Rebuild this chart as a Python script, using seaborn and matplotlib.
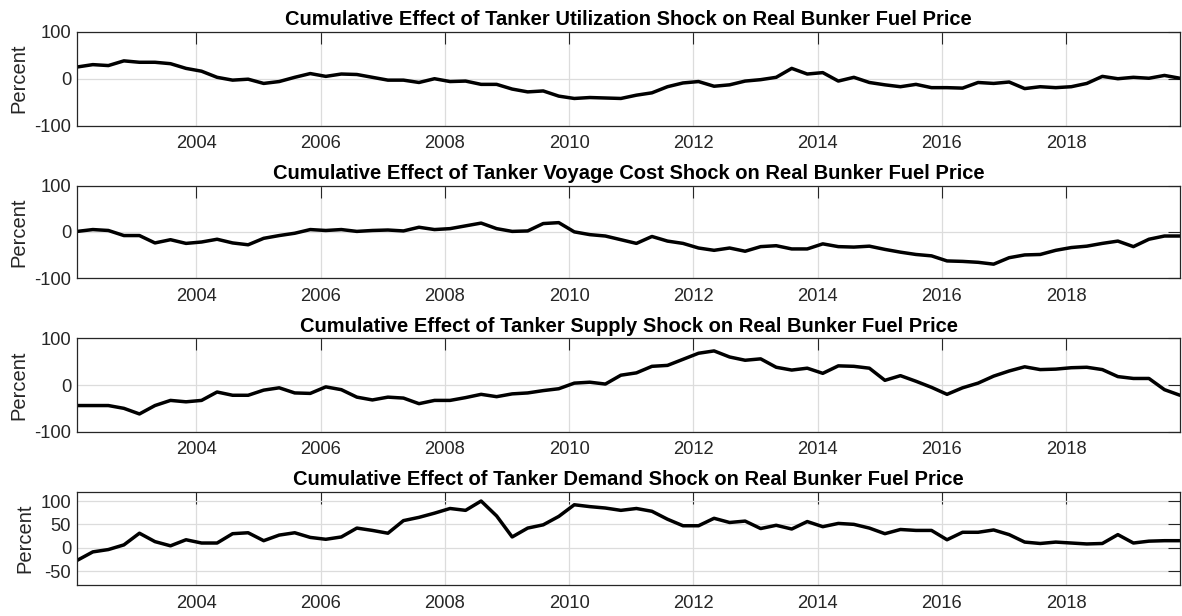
import numpy as np
import pandas as pd
import seaborn as sns
import matplotlib.pyplot as plt

# quarterly readings, Feb 2002 .. Nov 2019
start_year = 2002 + 1 / 12
dates = start_year + 0.25 * np.arange(72)

utilization = [25, 30, 28, 38, 35, 35, 32, 22, 16, 3,
               -3, -1, -10, -6, 3, 11, 5, 10, 9, 3,
               -3, -3, -8, 0, -6, -5, -12, -12, -22, -28,
               -26, -37, -42, -40, -41, -42, -35, -30, -17, -9,
               -6, -16, -13, -5, -2, 3, 22, 10, 13, -5,
               3, -8, -13, -17, -12, -19, -19, -20, -8, -10,
               -7, -21, -17, -19, -17, -10, 5, 0, 3, 1,
               7, 1]

voyage_cost = [1, 5, 3, -8, -8, -24, -17, -25, -22, -16,
               -24, -28, -14, -8, -3, 5, 3, 5, 1, 3,
               4, 2, 10, 5, 7, 13, 19, 7, 1, 2,
               18, 20, 0, -6, -9, -17, -25, -10, -20, -25,
               -35, -40, -35, -42, -32, -30, -37, -37, -26, -32,
               -33, -31, -38, -44, -49, -52, -63, -64, -66, -70,
               -56, -50, -49, -40, -34, -31, -25, -20, -32, -16,
               -9, -9]

supply = [-44, -44, -44, -50, -62, -44, -33, -36, -33, -15,
          -22, -22, -11, -6, -17, -18, -4, -10, -26, -32,
          -26, -28, -40, -33, -33, -27, -20, -25, -19, -17,
          -12, -8, 4, 6, 2, 21, 26, 40, 42, 55,
          68, 73, 60, 53, 56, 38, 32, 36, 25, 41,
          40, 36, 10, 20, 8, -5, -20, -6, 4, 19,
          30, 39, 33, 34, 37, 38, 33, 18, 14, 14,
          -10, -22]

demand = [-27, -9, -4, 6, 31, 13, 4, 17, 10, 10,
          30, 32, 15, 27, 32, 22, 18, 23, 42, 37,
          31, 58, 65, 74, 84, 80, 100, 68, 23, 42,
          49, 67, 92, 88, 85, 80, 84, 78, 61, 47,
          47, 63, 54, 57, 41, 48, 40, 56, 45, 52,
          50, 42, 30, 39, 37, 37, 17, 33, 33, 38,
          28, 12, 9, 12, 10, 8, 9, 28, 10, 14,
          15, 15]

titles = ["Cumulative Effect of Tanker Utilization Shock on Real Bunker Fuel Price",
          "Cumulative Effect of Tanker Voyage Cost Shock on Real Bunker Fuel Price",
          "Cumulative Effect of Tanker Supply Shock on Real Bunker Fuel Price",
          "Cumulative Effect of Tanker Demand Shock on Real Bunker Fuel Price"]
series = [utilization, voyage_cost, supply, demand]
ytick_sets = [[-100, 0, 100], [-100, 0, 100], [-100, 0, 100], [-50, 0, 50, 100]]
ylims = [(-100, 100), (-100, 100), (-100, 100), (-80, 120)]
xticks = [2004, 2006, 2008, 2010, 2012, 2014, 2016, 2018]

sns.set_theme(style="white")
plt.rcParams['font.family'] = ['Liberation Sans', 'DejaVu Sans']
plt.rcParams['axes.unicode_minus'] = False

fig = plt.figure(figsize=(11.82, 6.16), dpi=100)
rects = [[0.0654, 0.7959, 0.9329, 0.1526],
         [0.0654, 0.5487, 0.9329, 0.1498],
         [0.0654, 0.2992, 0.9329, 0.1516],
         [0.0654, 0.0503, 0.9329, 0.1515]]

for rect, title, vals, yt, yl in zip(rects, titles, series, ytick_sets, ylims):
    ax = fig.add_axes(rect)
    df = pd.DataFrame({"date": dates, "effect": vals})
    sns.lineplot(data=df, x="date", y="effect", ax=ax, color="black", linewidth=2.5)
    ax.set_xlim(dates[0], dates[-1])
    ax.set_ylim(*yl)
    ax.set_xticks(xticks)
    ax.set_xticklabels([str(t) for t in xticks])
    ax.set_yticks(yt)
    ax.set_axisbelow(True)
    ax.grid(True, color="#dcdcdc", linewidth=0.9)
    ax.tick_params(direction="in", length=8.3, width=0.8, top=True, right=True,
                   labelsize=13.2, colors="#262626")
    ax.tick_params(axis="x", pad=7)
    ax.tick_params(axis="y", pad=4.5)
    for sp in ax.spines.values():
        sp.set_color("#262626")
        sp.set_linewidth(0.9)
    ax.set_xlabel("")
    ax.set_ylabel("Percent", fontsize=14.5, color="#262626", labelpad=4)
    ax.set_title(title, fontsize=14.5, fontweight="bold", color="black", pad=4.8)

fig.savefig("out.png", dpi=100)
